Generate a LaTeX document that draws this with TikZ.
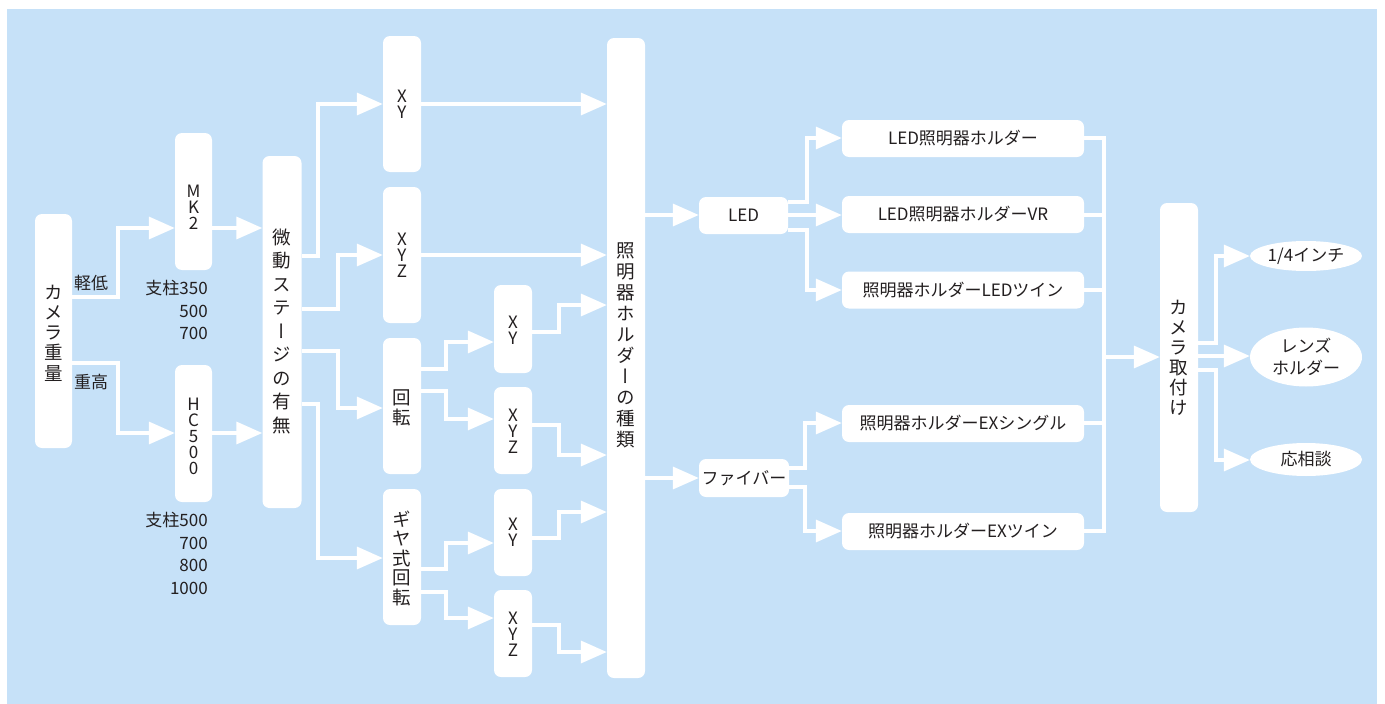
\documentclass[tikz,border=0pt]{standalone}
\usepackage{fontspec}
\setmainfont{Noto Sans CJK JP}
\newfontfamily\vfont[RawFeature=+vert]{Noto Sans CJK JP}
\usetikzlibrary{arrows.meta,shapes.geometric}
\definecolor{bgblue}{RGB}{198,225,248}
\definecolor{txt}{RGB}{35,31,32}
\begin{document}
\begin{tikzpicture}[x=1pt,y=-1pt,
  wbox/.style={fill=white, rounded corners=7pt, inner sep=0pt, text=txt},
  ell/.style={ellipse, fill=white, inner sep=0pt, text=txt, align=center, font=\fontsize{17}{22}\selectfont},
  wline/.style={draw=white, line width=3.5pt, line join=miter},
  warrow/.style={wline, -{Triangle[length=26pt,width=22pt]}},
  lbl/.style={text=txt, inner sep=0pt, font=\fontsize{17}{20}\selectfont},
  vtxt/.style={text=txt, inner sep=0pt, align=center, font=\vfont\fontsize{18.5}{#1}\selectfont},
  vtxt/.default=21,
  stk/.style={text=txt, inner sep=0pt, align=center, font=\fontsize{17}{16}\selectfont},
  htxt/.style={font=\fontsize{17}{20}\selectfont, align=center}]
\fill[white] (0,0) rectangle (1385,704);
\useasboundingbox (0,0) rectangle (1385,704);
\fill[bgblue] (7,9) rectangle (1377,704);

% column 1
\node[wbox, minimum width=37pt, minimum height=234pt] (cam) at (53.5,331) {};
\node[vtxt=20.3] (camt) at (53.5,333) {カ\\メ\\ラ\\重\\量};
\node[lbl, anchor=west] (l1) at (74,283) {軽低};
\node[lbl, anchor=west] (l2) at (74,382) {重高};

% column 2
\node[wbox, minimum width=37pt, minimum height=137pt] (mk2) at (193.5,201.5) {};
\node[stk] (mk2t) at (193.5,207) {M\\K\\2};
\node[wbox, minimum width=37pt, minimum height=137pt] (hc) at (193.5,433.5) {};
\node[stk] (hct) at (193.5,436) {H\\C\\5\\0\\0};
\node[lbl, anchor=base east] (p1) at (208,294) {支柱350};
\node[lbl, anchor=base east] (p2) at (208,317) {500};
\node[lbl, anchor=base east] (p3) at (208,339) {700};
\node[lbl, anchor=base east] (q1) at (208,526) {支柱500};
\node[lbl, anchor=base east] (q2) at (208,549) {700};
\node[lbl, anchor=base east] (q3) at (208,571) {800};
\node[lbl, anchor=base east] (q4) at (208,594) {1000};

% column 3
\node[wbox, minimum width=39pt, minimum height=352pt] (bi) at (282,332) {};
\node[vtxt=23.5] (bit) at (282,331) {微\\動\\ス\\テ\\ー\\ジ\\の\\有\\無};

% column 4
\node[wbox, minimum width=38pt, minimum height=136pt] (xy1) at (402,104) {};
\node[stk] (xy1t) at (402,104) {X\\Y};
\node[wbox, minimum width=38pt, minimum height=136pt] (xyz1) at (402,255) {};
\node[stk] (xyz1t) at (402,255) {X\\Y\\Z};
\node[wbox, minimum width=38pt, minimum height=136pt] (rot) at (402,406) {};
\node[vtxt=20] (rott) at (402,408) {回\\転};
\node[wbox, minimum width=38pt, minimum height=136pt] (gear) at (402,557) {};
\node[vtxt=19.5] (geart) at (402,558) {ギ\\ヤ\\式\\回\\転};

% column 5
\node[wbox, minimum width=38pt, minimum height=88pt] (xya) at (513,329) {};
\node[stk] (xyat) at (513,330) {X\\Y};
\node[wbox, minimum width=38pt, minimum height=87pt] (xyzb) at (513,430.5) {};
\node[stk] (xyzbt) at (513,431) {X\\Y\\Z};
\node[wbox, minimum width=38pt, minimum height=87pt] (xyc) at (513,532.5) {};
\node[stk] (xyct) at (513,532) {X\\Y};
\node[wbox, minimum width=38pt, minimum height=87pt] (xyzd) at (513,633.5) {};
\node[stk] (xyzdt) at (513,634) {X\\Y\\Z};

% column 6
\node[wbox, minimum width=38pt, minimum height=640pt] (shu) at (626,358) {};
\node[vtxt=21] (shut) at (626,345) {照\\明\\器\\ホ\\ル\\ダ\\ー\\の\\種\\類};

% column 7
\node[wbox, minimum width=89pt, minimum height=37pt, htxt] (led) at (743.5,215.5) {LED};
\node[wbox, minimum width=90pt, minimum height=38pt, htxt] (fib) at (744,478) {ファイバー};

% column 8
\node[wbox, minimum width=242pt, minimum height=37pt, htxt] (h1) at (963,138.5) {LED照明器ホルダー};
\node[wbox, minimum width=242pt, minimum height=37pt, htxt] (h2) at (963,214.5) {LED照明器ホルダーVR};
\node[wbox, minimum width=242pt, minimum height=37pt, htxt] (h3) at (963,290) {照明器ホルダーLEDツイン};
\node[wbox, minimum width=242pt, minimum height=37pt, htxt] (h4) at (963,423.5) {照明器ホルダーEXシングル};
\node[wbox, minimum width=242pt, minimum height=37pt, htxt] (h5) at (963,531.5) {照明器ホルダーEXツイン};

% column 9
\node[wbox, minimum width=38pt, minimum height=309pt] (cm) at (1179,357.5) {};
\node[vtxt=20] (cmt) at (1179,358) {カ\\メ\\ラ\\取\\付\\け};

% column 10
\node[ell, minimum width=112pt, minimum height=30pt] (e1) at (1306,256) {1/4インチ};
\node[ell, minimum width=112pt, minimum height=59pt] (e2) at (1306,357) {レンズ\\ホルダー};
\node[ell, minimum width=112pt, minimum height=33pt] (e3) at (1306,459.5) {応相談};

% connectors
\draw[warrow] (cam.east |- 0,297) -| (118,228) -- (mk2.west |- 0,228);
\draw[warrow] (cam.east |- 0,363) -| (118,433) -- (hc.west |- 0,433);
\draw[warrow] (mk2.east |- 0,228) -- (bi.west |- 0,228);
\draw[warrow] (hc.east |- 0,433) -- (bi.west |- 0,433);

\draw[warrow] (bi.east |- 0,256) -| (318,104) -- (xy1.west |- 0,104);
\draw[warrow] (bi.east |- 0,309) -| (338,255) -- (xyz1.west |- 0,255);
\draw[warrow] (bi.east |- 0,351) -| (338,408) -- (rot.west |- 0,408);
\draw[warrow] (bi.east |- 0,404) -| (318,558) -- (gear.west |- 0,558);

\draw[warrow] (xy1.east |- 0,104) -- (shu.west |- 0,104);
\draw[warrow] (xyz1.east |- 0,255) -- (shu.west |- 0,255);

\draw[warrow] (rot.east |- 0,369) -| (446,342) -- (xya.west |- 0,342);
\draw[warrow] (rot.east |- 0,391) -| (446,419) -- (xyzb.west |- 0,419);
\draw[warrow] (gear.east |- 0,569) -| (446,543) -- (xyc.west |- 0,543);
\draw[warrow] (gear.east |- 0,592) -| (446,618) -- (xyzd.west |- 0,618);

\draw[warrow] (xya.east |- 0,332) -| (559,305) -- (shu.west |- 0,305);
\draw[warrow] (xyzb.east |- 0,425) -| (559,455) -- (shu.west |- 0,455);
\draw[warrow] (xyc.east |- 0,538) -| (559,512) -- (shu.west |- 0,512);
\draw[warrow] (xyzd.east |- 0,625) -| (559,652) -- (shu.west |- 0,652);

\draw[warrow] (shu.east |- 0,215) -- (led.west |- 0,215);
\draw[warrow] (shu.east |- 0,478) -- (fib.west |- 0,478);

\draw[warrow] (led.east |- 0,202) -| (807,138) -- (h1.west |- 0,138);
\draw[warrow] (led.east |- 0,215) -- (h2.west |- 0,215);
\draw[warrow] (led.east |- 0,230) -| (807,290) -- (h3.west |- 0,290);
\draw[warrow] (fib.east |- 0,468) -| (805,423) -- (h4.west |- 0,423);
\draw[warrow] (fib.east |- 0,487) -| (805,531) -- (h5.west |- 0,531);

\coordinate (bt) at (1104,138);
\coordinate (bb) at (1104,531);
\coordinate (bm) at (1104,357);
\draw[wline] (h1.east |- 0,138) -- (bt) -- (bb) -- (h5.east |- 0,531);
\draw[wline] (h2.east |- 0,215) -- (bt |- 0,215);
\draw[wline] (h3.east |- 0,290) -- (bt |- 0,290);
\draw[wline] (h4.east |- 0,423) -- (bt |- 0,423);
\draw[warrow] (bm) -- (cm.west |- bm);

\draw[warrow] (cm.east |- 0,343) -| (1216,256) -- (e1.west);
\draw[warrow] (cm.east |- 0,356) -- (e2.west |- 0,356);
\draw[warrow] (cm.east |- 0,370) -| (1216,460) -- (e3.west |- 0,460);
\end{tikzpicture}
\end{document}
